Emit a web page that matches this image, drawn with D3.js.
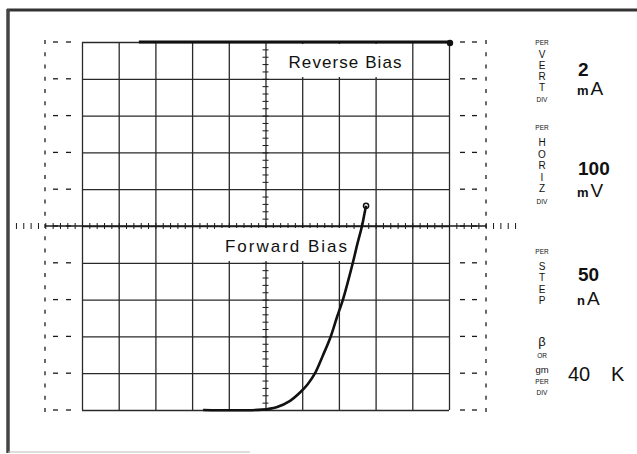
<!DOCTYPE html>
<html><head><meta charset="utf-8">
<script src="https://cdn.jsdelivr.net/npm/d3@7"></script>
<style>
html,body{margin:0;padding:0;background:#fff;}
svg{display:block;}
text{font-family:"Liberation Sans",Arial,sans-serif;fill:#111;}
</style></head>
<body>
<svg id="c" width="637" height="454"></svg>
<script>
// ---- data (mV horizontal, mA vertical) ----
const gridV = [0,100,200,300,400,500,600,700,800,900,1000];
const gridI = [0,2,4,6,8,10,12,14,16,18,20];
const forwardV = [330,490,530,567,594,615,635,655,676,694,711,725,738,750,763,770,774];
const forwardI = [0,0.02,0.15,0.5,0.95,1.4,2.0,2.9,3.9,5.0,6.0,7.0,8.0,9.0,10.0,10.7,11.1];
const reverseV = [155,1000];
const reverseI = [20,20];
const labelForward = "Forward Bias";
const labelReverse = "Reverse Bias";
const vertLetters = ["V","E","R","T"];
const horizLetters = ["H","O","R","I","Z"];
const stepLetters = ["S","T","E","P"];
const vertValue = ["2","m","A"];
const horizValue = ["100","m","V"];
const stepValue = ["50","n","A"];
const betaValue = ["40","K"];

const svg = d3.select("#c");
const x = d3.scaleLinear().domain([0,1000]).range([82,449]);
const y = d3.scaleLinear().domain([0,20]).range([410,42]);
const W = x(1000)-x(0), H = y(0)-y(20);
const ink = "#1a1a1a";

// outer frame
svg.append("line").attr("x1",7).attr("x2",637).attr("y1",10).attr("y2",10).attr("stroke","#333").attr("stroke-width",3);
svg.append("line").attr("x1",8).attr("x2",8).attr("y1",9).attr("y2",453).attr("stroke","#444").attr("stroke-width",3.5);
svg.append("line").attr("x1",8).attr("x2",250).attr("y1",452).attr("y2",452).attr("stroke","#bbb").attr("stroke-width",1);

// grid via axes
const gx = svg.append("g").attr("transform",`translate(0,${y(0)})`)
  .call(d3.axisBottom(x).tickValues(gridV).tickSize(-H).tickFormat(""));
const gy = svg.append("g").attr("transform",`translate(${x(0)},0)`)
  .call(d3.axisLeft(y).tickValues(gridI).tickSize(-W).tickFormat(""));
[gx,gy].forEach(g=>{g.select(".domain").remove();g.selectAll("line").attr("stroke","#2a2a2a").attr("stroke-width",1.3);});

// outside marks left and right
const thirds = d3.range(0,20.001,2/3);
const left = svg.append("g");
left.selectAll("line.s").data(thirds).join("line").attr("class","s")
  .attr("x1",45).attr("x2",45).attr("y1",d=>y(d)-2).attr("y2",d=>y(d)+2).attr("stroke",ink).attr("stroke-width",1.3);
left.selectAll("line.d1").data(gridI).join("line").attr("class","d1")
  .attr("x1",53).attr("x2",58).attr("y1",d=>y(d)).attr("y2",d=>y(d)).attr("stroke",ink).attr("stroke-width",1.3);
left.selectAll("line.d2").data(gridI).join("line").attr("class","d2")
  .attr("x1",66).attr("x2",71).attr("y1",d=>y(d)).attr("y2",d=>y(d)).attr("stroke",ink).attr("stroke-width",1.3);
const right = svg.append("g");
right.selectAll("line.s").data(thirds).join("line").attr("class","s")
  .attr("x1",486).attr("x2",486).attr("y1",d=>y(d)-2).attr("y2",d=>y(d)+2).attr("stroke",ink).attr("stroke-width",1.3);
right.selectAll("line.d1").data(gridI).join("line").attr("class","d1")
  .attr("x1",460).attr("x2",465).attr("y1",d=>y(d)).attr("y2",d=>y(d)).attr("stroke",ink).attr("stroke-width",1.3);
right.selectAll("line.d2").data(gridI).join("line").attr("class","d2")
  .attr("x1",472).attr("x2",477).attr("y1",d=>y(d)).attr("y2",d=>y(d)).attr("stroke",ink).attr("stroke-width",1.3);
// extend center horizontal axis outward
svg.append("line").attr("x1",45).attr("x2",486).attr("y1",y(10)).attr("y2",y(10)).attr("stroke",ink).attr("stroke-width",1.3);

// center axes minor ticks
const minV = d3.range(-180,1181,20);
svg.append("g").attr("transform",`translate(0,${y(10)})`)
  .call(d3.axisBottom(x).tickValues(minV).tickSize(3).tickFormat(""))
  .call(g=>{g.select(".domain").remove();g.selectAll("line").attr("stroke",ink).attr("y1",-3).attr("y2",3);});
svg.append("g").attr("transform",`translate(${x(500)},0)`)
  .call(d3.axisLeft(y).tickValues(d3.range(0,20.001,0.4)).tickSize(3).tickFormat(""))
  .call(g=>{g.select(".domain").remove();g.selectAll("line").attr("stroke",ink).attr("x1",-3).attr("x2",3);});

// label boxes
function label(txt, cx, by, bx0, bx1, by0, by1, len){
  svg.append("rect").attr("x",bx0).attr("y",by0).attr("width",bx1-bx0).attr("height",by1-by0).attr("fill","#fff");
  svg.append("text").attr("x",cx).attr("y",by).attr("text-anchor","middle")
    .attr("font-size",17).attr("textLength",len).attr("lengthAdjust","spacing").text(txt);
}
label(labelReverse, 345, 68, 282, 410, 44, 77, 113);
label(labelForward, 286, 252, 215, 352, 228, 261, 122);

// traces
const line = d3.line().x(d=>x(d[0])).y(d=>y(d[1])).curve(d3.curveCatmullRom);
svg.append("path").datum(reverseV.map((v,i)=>[v,reverseI[i]])).attr("d",line)
  .attr("fill","none").attr("stroke","#111").attr("stroke-width",3);
svg.append("circle").attr("cx",x(reverseV[1])+1).attr("cy",y(reverseI[1])+1).attr("r",3.2).attr("fill","#111");
svg.append("path").datum(forwardV.map((v,i)=>[v,forwardI[i]])).attr("d",line)
  .attr("fill","none").attr("stroke","#111").attr("stroke-width",2.6);
const n = forwardV.length-1;
svg.append("circle").attr("cx",x(forwardV[n])).attr("cy",y(forwardI[n])).attr("r",2.6).attr("fill","none").attr("stroke","#111").attr("stroke-width",1.5);

// right panel
const px = 542, vx = 578;
function small(t, yy){ svg.append("text").attr("x",px).attr("y",yy).attr("text-anchor","middle").attr("font-size",6.5).attr("fill","#333").text(t); }
function letters(arr, y0, step){ arr.forEach((l,i)=>svg.append("text").attr("x",px).attr("y",y0+i*step).attr("text-anchor","middle").attr("font-size",10).attr("fill","#222").text(l)); }
function value(arr, y0, y1){
  svg.append("text").attr("x",vx).attr("y",y0).attr("font-size",19).attr("font-family","DejaVu Sans").attr("font-weight","bold").text(arr[0]);
  const t = svg.append("text").attr("x",vx-1).attr("y",y1).attr("font-family","DejaVu Sans");
  t.append("tspan").attr("font-size",13).attr("font-weight","bold").text(arr[1]);
  t.append("tspan").attr("font-size",19).attr("dx",2).text(arr[2]);
}
small("PER",45); letters(vertLetters,58,11); small("DIV",102);
value(vertValue,76,95);
small("PER",130); letters(horizLetters,146,11.5); small("DIV",204);
value(horizValue,175,197);
small("PER",254); letters(stepLetters,270,11.3);
value(stepValue,281,305);
svg.append("text").attr("x",px).attr("y",346).attr("text-anchor","middle").attr("font-size",13).text("β");
small("OR",358);
svg.append("text").attr("x",px).attr("y",373).attr("text-anchor","middle").attr("font-size",9.5).text("gm");
small("PER",384); small("DIV",395);
svg.append("text").attr("x",vx-10).attr("y",381).attr("font-size",20).attr("font-family","DejaVu Sans").text(betaValue[0]);
svg.append("text").attr("x",vx+33).attr("y",381).attr("font-size",20).attr("font-family","DejaVu Sans").text(betaValue[1]);
</script>
</body></html>
